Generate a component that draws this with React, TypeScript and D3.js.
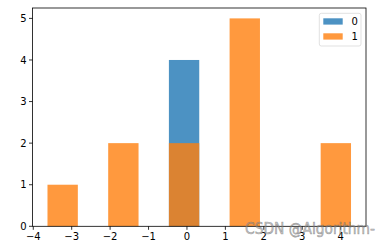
import React from "react";
import * as d3 from "d3";

const binEdges = [-3.63, -2.84, -2.05, -1.26, -0.47, 0.32, 1.11, 1.9, 2.69, 3.48, 4.27];
const series0Counts = [0, 0, 0, 0, 4, 0, 0, 0, 0, 0];
const series1Counts = [1, 0, 2, 0, 2, 0, 5, 0, 0, 2];
const seriesLabels = ["0", "1"];
const xTicks = [-4, -3, -2, -1, 0, 1, 2, 3, 4];
const yTicks = [0, 1, 2, 3, 4, 5];

const W = 390, H = 248;
const L = 32.5, R = 366, T = 8, B = 226.3;
const colors = ["#1f77b4", "#ff7f0e"];
const font = "DejaVu Sans, sans-serif";

export default function App() {
  const x = d3.scaleLinear().domain([-4.02, 4.66]).range([L, R]);
  const y = d3.scaleLinear().domain([0, 5.25]).range([B, T]);
  const all = [series0Counts, series1Counts];
  return (
    <svg width={W} height={H} style={{ position: "absolute", left: 0, top: 0 }}>
      <rect width={W} height={H} fill="#fff" />
      {all.map((counts, si) =>
        counts.map((c, i) =>
          c > 0 ? (
            <rect key={`${si}-${i}`} x={x(binEdges[i])} width={x(binEdges[i + 1]) - x(binEdges[i])}
              y={y(c)} height={y(0) - y(c)} fill={colors[si]} fillOpacity={0.8} />
          ) : null
        )
      )}
      <rect x={L} y={T} width={R - L} height={B - T} fill="none" stroke="#000" strokeWidth={0.8} />
      {xTicks.map((t) => (
        <g key={t}>
          <line x1={x(t)} x2={x(t)} y1={B} y2={B + 3.5} stroke="#000" strokeWidth={0.8} />
          <text x={x(t)} y={B + 14} fontSize={10} fontFamily={font} textAnchor="middle" fill="#000">
            {t < 0 ? `\u2212${-t}` : t}
          </text>
        </g>
      ))}
      {yTicks.map((t) => (
        <g key={t}>
          <line x1={L - 3.5} x2={L} y1={y(t)} y2={y(t)} stroke="#000" strokeWidth={0.8} />
          <text x={L - 6} y={y(t) + 3.6} fontSize={10} fontFamily={font} textAnchor="end" fill="#000">{t}</text>
        </g>
      ))}
      <rect x={319.3} y={13.3} width={41.7} height={32.7} rx={2} fill="#fff" fillOpacity={0.8} stroke="#d9d9d9" strokeWidth={0.8} />
      {seriesLabels.map((s, i) => (
        <g key={s}>
          <rect x={323.3} y={18.3 + i * 15} width={19.4} height={6.3} fill={colors[i]} fillOpacity={0.8} />
          <text x={351.5} y={25 + i * 15} fontSize={10} fontFamily={font} fill="#000">{s}</text>
        </g>
      ))}
      <text x={245} y={234} fontSize={15} fontFamily="DejaVu Sans, sans-serif" fill="rgba(150,150,150,0.55)"
        stroke="rgba(90,90,90,0.5)" strokeWidth={0.6} textLength={130} lengthAdjust="spacingAndGlyphs">CSDN @Algorithm-</text>
    </svg>
  );
}
